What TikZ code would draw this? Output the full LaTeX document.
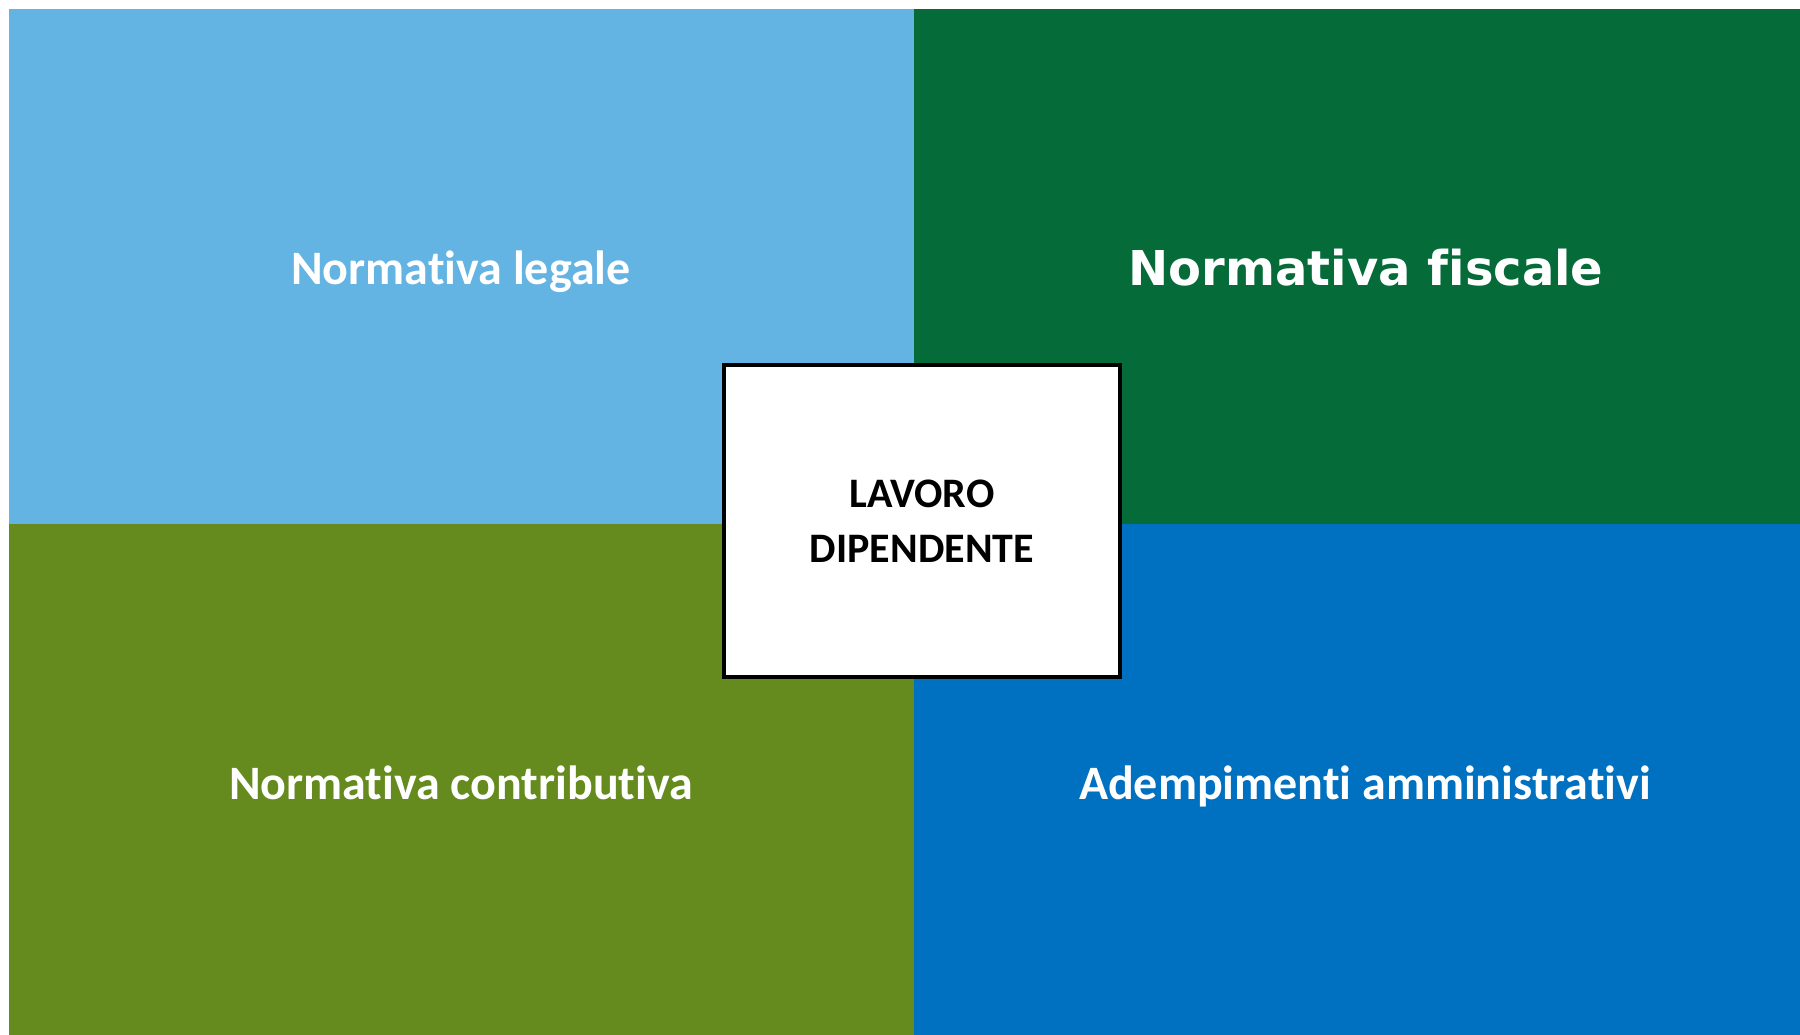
\documentclass[tikz,border=0pt]{standalone}
\usepackage{fontspec}
\setmainfont[Ligatures={NoCommon}]{Carlito}
\newfontfamily\verdanalike[Ligatures={NoCommon}]{DejaVu Sans}
\definecolor{legalblue}{HTML}{63B3E3}
\definecolor{fiscalgreen}{HTML}{056B39}
\definecolor{contribgreen}{HTML}{658B1E}
\definecolor{adminblue}{HTML}{0070C0}
\begin{document}
\begin{tikzpicture}[x=1pt,y=-1pt,
  quadlabel/.style={text=white,font=\bfseries\fontsize{48}{55}\selectfont,anchor=base},
  centerbox/.style={draw=black,line width=4pt,fill=white,minimum width=396pt,minimum height=312pt,
    align=center,font=\bfseries\fontsize{42}{55}\selectfont}]
  \useasboundingbox[fill=white] (0,0) rectangle (1800,1035);
  % four coloured quadrants
  \fill[legalblue]    (9,9)     rectangle (914,524);
  \fill[fiscalgreen]  (914,9)   rectangle (1800,524);
  \fill[contribgreen] (9,524)   rectangle (914,1035);
  \fill[adminblue]    (914,524) rectangle (1800,1035);
  % quadrant titles
  \node[quadlabel] (legale) at (461,284) {Normativa legale};
  \node[quadlabel,font=\verdanalike\bfseries\fontsize{48}{55}\selectfont] (fiscale) at (1366,286) {Normativa fiscale};
  \node[quadlabel] (contrib) at (461,799) {Normativa contributiva};
  \node[quadlabel] (admin) at (1365,799) {Adempimenti amministrativi};
  % central box
  \node[centerbox] (lavoro) at (922,521) {LAVORO\\DIPENDENTE};
\end{tikzpicture}
\end{document}
